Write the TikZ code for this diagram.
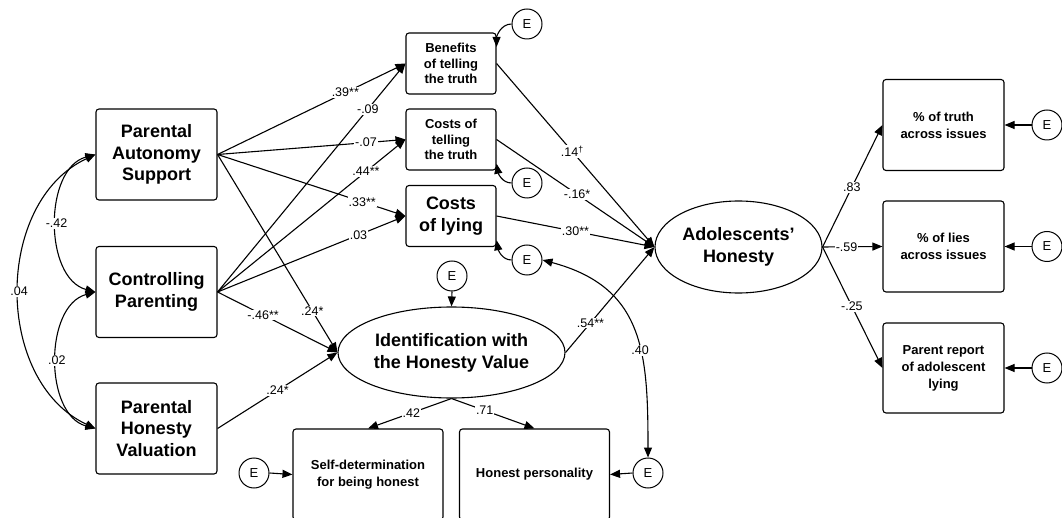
\documentclass[tikz,border=0pt]{standalone}
\usepackage{fontspec}
\setmainfont{Liberation Sans}
\usetikzlibrary{arrows.meta,shapes.geometric}

\tikzset{
  box/.style={draw,line width=1.1pt,rounded corners=3pt,align=center,inner sep=0pt},
  bigbox/.style={box,minimum width=121pt,minimum height=91pt,font=\fontsize{18}{21.5}\selectfont\bfseries},
  midbox/.style={box,minimum width=90pt,minimum height=61pt,font=\fontsize{13}{15.5}\selectfont\bfseries},
  outbox/.style={box,minimum width=121pt,minimum height=91pt,font=\fontsize{13}{17}\selectfont\bfseries},
  lowbox/.style={box,minimum width=150pt,minimum height=91pt,font=\fontsize{13}{16.5}\selectfont\bfseries},
  latent/.style={draw,ellipse,line width=1.1pt,align=center,inner sep=0pt,font=\fontsize{18}{22}\selectfont\bfseries},
  err/.style={draw,circle,line width=1pt,minimum size=30pt,inner sep=0pt,font=\fontsize{13}{13}\selectfont},
  effect/.style={line width=1.1pt,-{Triangle[length=10pt,width=8pt]}},
  covar/.style={line width=1.1pt,{Triangle[length=10pt,width=8pt]}-{Triangle[length=10pt,width=8pt]}},
  coef/.style={fill=white,inner sep=1pt,font=\fontsize{12.5}{12.5}\selectfont},
}

\begin{document}
\begin{tikzpicture}[x=1pt,y=-1pt]
  \useasboundingbox[fill=white] (0,0) rectangle (1062,518);
  % parenting variables
  \node[bigbox] (pas) at (156.5,154.5) {Parental\\Autonomy\\Support};
  \node[bigbox] (cp) at (156.5,292) {Controlling\\Parenting};
  \node[bigbox] (phv) at (156.5,428.5) {Parental\\Honesty\\Valuation};
  % mediators
  \node[midbox] (ben) at (451,63.5) {Benefits\\of telling\\the truth};
  \node[midbox] (ct) at (451,139.5) {Costs of\\telling\\the truth};
  \node[midbox,font=\fontsize{18}{21.5}\selectfont\bfseries] (cl) at (451,216) {Costs\\of lying};
  \node[latent,minimum width=227pt,minimum height=91pt] (id) at (451.5,352.5) {Identification with\\the Honesty Value};
  % outcome
  \node[latent,minimum width=167pt,minimum height=92pt] (ah) at (738.5,247) {Adolescents'\\Honesty};
  \node[outbox] (r1) at (943.5,125) {\% of truth\\across issues};
  \node[outbox] (r2) at (943.5,246.5) {\% of lies\\across issues};
  \node[outbox,minimum height=90pt] (r3) at (943.5,368) {Parent report\\of adolescent\\lying};
  \node[lowbox] (sd) at (368,474.5) {Self-determination\\for being honest};
  \node[lowbox] (hp) at (534.5,474.5) {Honest personality};
  % error terms
  \node[err] (eben) at (527,24) {E};
  \node[err] (ect) at (527,183) {E};
  \node[err] (ecl) at (527,260) {E};
  \node[err] (eid) at (452,276) {E};
  \node[err] (esd) at (254,473) {E};
  \node[err] (ehp) at (648,473) {E};
  \node[err] (er1) at (1047,125) {E};
  \node[err] (er2) at (1047,246.5) {E};
  \node[err] (er3) at (1047,368) {E};
  % covariances
  \draw[covar] (pas.west) to[out=195,in=165] node[coef]{-.42} (cp.west);
  \draw[covar] (cp.west) to[out=195,in=165] node[coef]{.02} (phv.west);
  \draw[covar] (pas.west) to[out=205,in=155,looseness=1.05] node[coef]{.04} (phv.west);
  \draw[covar] (ecl.east) to[out=-15,in=90,looseness=1.2] node[coef,pos=0.6]{.40} (ehp.north);
  % paths from parenting
  \draw[effect] (pas.east) -- node[coef,pos=0.68]{.39**} (ben.west);
  \draw[effect] (pas.east) -- node[coef,pos=0.79]{-.07} (ct.west);
  \draw[effect] (pas.east) -- node[coef,pos=0.77]{.33**} (cl.west);
  \draw[effect] (pas.east) -- node[coef,pos=0.79]{.24*} (id.west);
  \draw[effect] (cp.east) -- node[coef,pos=0.8]{-.09} (ben.west);
  \draw[effect] (cp.east) -- node[coef,pos=0.79]{.44**} (ct.west);
  \draw[effect] (cp.east) -- node[coef,pos=0.75]{.03} (cl.west);
  \draw[effect] (cp.east) -- node[coef,pos=0.38]{-.46**} (id.west);
  \draw[effect] (phv.east) -- node[coef,pos=0.5]{.24*} (id.west);
  % paths to honesty
  \draw[effect] (ben.east) -- node[coef,pos=0.48]{.14\textsuperscript{\dag}} (ah.west);
  \draw[effect] (ct.east) -- node[coef,pos=0.51]{-.16*} (ah.west);
  \draw[effect] (cl.east) -- node[coef,pos=0.5]{.30**} (ah.west);
  \draw[effect] (id.east) -- node[coef,pos=0.28]{.54**} (ah.west);
  \draw[effect] (id.south) -- node[coef,pos=0.48]{.42} (sd.north);
  \draw[effect] (id.south) -- node[coef,pos=0.4]{.71} (hp.north);
  \draw[effect] (ah.east) -- node[coef,pos=0.49]{.83} (r1.west);
  \draw[effect] (ah.east) -- node[coef,pos=0.4]{-.59} (r2.west);
  \draw[effect] (ah.east) -- node[coef,pos=0.49]{-.25} (r3.west);
  % residuals
  \draw[effect] (eben.west) to[out=180,in=90] (ben.20);
  \draw[effect] (ect.west) to[out=180,in=-80] (ct.-28);
  \draw[effect] (ecl.west) to[out=180,in=-80] (cl.-28);
  \draw[effect] (eid.south) -- (id.north);
  \draw[effect] (esd.east) -- (sd.west);
  \draw[effect] (ehp.west) -- (hp.east);
  \draw[effect] (er1.west) -- (r1.east);
  \draw[effect] (er2.west) -- (r2.east);
  \draw[effect] (er3.west) -- (r3.east);
\end{tikzpicture}
\end{document}
